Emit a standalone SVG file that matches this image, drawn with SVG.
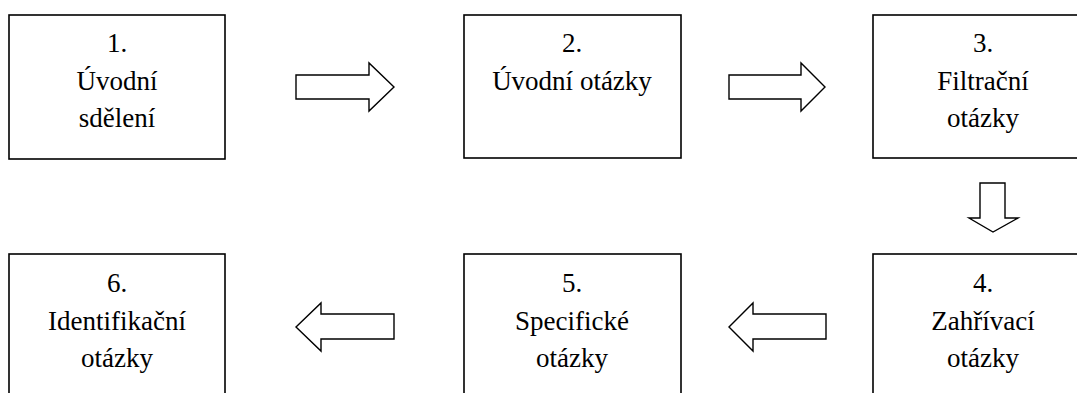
<svg xmlns="http://www.w3.org/2000/svg" width="1077" height="393" viewBox="0 0 1077 393">
  <style>
    .box { fill: #ffffff; stroke: #000000; stroke-width: 1.6; }
    .arrow { fill: #ffffff; stroke: #000000; stroke-width: 1.4; stroke-linejoin: miter; }
    .label { font-size: 27px; fill: #000000; text-anchor: middle; }
  </style>
  <rect width="1077" height="393" fill="#ffffff"/>

  <g font-family="Liberation Serif, Times New Roman, serif">
  <!-- top row -->
  <g id="node-1">
    <rect class="box" x="9" y="15" width="216" height="144"/>
    <text class="label" x="117" y="52">1.</text>
    <text class="label" x="117" y="90">Úvodní</text>
    <text class="label" x="117" y="127">sdělení</text>
  </g>
  <g id="node-2">
    <rect class="box" x="464" y="15" width="217" height="143"/>
    <text class="label" x="572" y="52">2.</text>
    <text class="label" x="572" y="90">Úvodní otázky</text>
  </g>
  <g id="node-3">
    <rect class="box" x="873" y="15" width="220" height="143"/>
    <text class="label" x="983" y="52">3.</text>
    <text class="label" x="983" y="90">Filtrační</text>
    <text class="label" x="983" y="127">otázky</text>
  </g>

  <!-- bottom row -->
  <g id="node-4">
    <rect class="box" x="873" y="254" width="220" height="160"/>
    <text class="label" x="983" y="292">4.</text>
    <text class="label" x="983" y="330">Zahřívací</text>
    <text class="label" x="983" y="367">otázky</text>
  </g>
  <g id="node-5">
    <rect class="box" x="464" y="254" width="217" height="160"/>
    <text class="label" x="572" y="292">5.</text>
    <text class="label" x="572" y="330">Specifické</text>
    <text class="label" x="572" y="367">otázky</text>
  </g>
  <g id="node-6">
    <rect class="box" x="9" y="254" width="216" height="160"/>
    <text class="label" x="117" y="292">6.</text>
    <text class="label" x="117" y="330">Identifikační</text>
    <text class="label" x="117" y="367">otázky</text>
  </g>
  </g>

  <!-- block arrows between the steps -->
  <g id="connectors">
    <polygon class="arrow" points="296,75 369,75 369,63 394,87 369,111 369,99 296,99"/>
    <polygon class="arrow" points="729,75 801,75 801,63 825,87 801,111 801,99 729,99"/>
    <polygon class="arrow" points="980,183 1005,183 1005,218 1018,218 993,232 969,218 980,218"/>
    <polygon class="arrow" points="826,314 753,314 753,303 729,327 753,351 753,339 826,339"/>
    <polygon class="arrow" points="394,314 321,314 321,303 296,327 321,351 321,339 394,339"/>
  </g>
</svg>
